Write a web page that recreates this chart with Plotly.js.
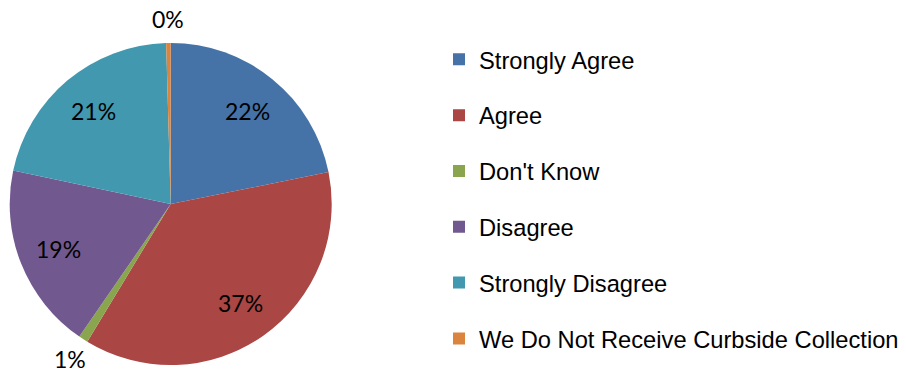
<!DOCTYPE html>
<html>
<head>
<meta charset="utf-8">
<script src="https://cdn.plot.ly/plotly-3.0.1.min.js"></script>
<style>html,body{margin:0;padding:0;background:#fff;}#chart{width:906px;height:373px;}</style>
</head>
<body>
<div id="chart"></div>
<script>
const categories = ["Strongly Agree", "Agree", "Don't Know", "Disagree", "Strongly Disagree", "We Do Not Receive Curbside Collection"];
const values = [21.8, 36.8, 0.93, 18.7, 21.2, 0.45];
const colors = ["#4572A7", "#AA4643", "#89A54E", "#71588F", "#4198AF", "#DB843D"];
const labelOutside = [false, false, true, false, false, true];

const W = 906, H = 373;
const cx = 170.7, cy = 204, R = 161;

const traces = [{
  type: 'pie',
  labels: categories,
  values: values,
  sort: false,
  direction: 'clockwise',
  rotation: 0,
  marker: {colors: colors, line: {width: 0}},
  textinfo: 'none',
  showlegend: false,
  hoverinfo: 'label+percent',
  domain: {x: [(cx - R) / W, (cx + R) / W], y: [(H - cy - R) / H, (H - cy + R) / H]}
}];

categories.forEach((c, i) => {
  traces.push({
    type: 'scatter', mode: 'markers', x: [null], y: [null],
    name: c, legendgroup: 'g' + i,
    marker: {symbol: 'square', size: 12, color: colors[i]},
    showlegend: true, hoverinfo: 'skip'
  });
});

// data labels placed at each slice's mid-angle (derived from the values)
const total = values.reduce((a, b) => a + b, 0);
const annotations = [];
let cum = 0;
values.forEach((v, i) => {
  const mid = (cum + v / 2) / total * 2 * Math.PI;
  cum += v;
  const f = labelOutside[i] ? 1.15 : 0.75;
  const px = cx + Math.sin(mid) * R * f;
  const py = cy - Math.cos(mid) * R * f;
  annotations.push({
    xref: 'paper', yref: 'paper', x: px / W, y: 1 - py / H,
    xanchor: 'center', yanchor: 'middle', showarrow: false,
    text: Math.round(v / total * 100) + '%',
    font: {family: 'Lato, "Open Sans", sans-serif', size: 23, color: '#000'}
  });
});

const layout = {
  width: W, height: H,
  margin: {l: 0, r: 0, t: 0, b: 0},
  paper_bgcolor: '#fff', plot_bgcolor: 'rgba(0,0,0,0)',
  xaxis: {visible: false}, yaxis: {visible: false},
  showlegend: true,
  annotations: annotations,
  legend: {
    x: 439 / W, xanchor: 'left', y: 0.8996, yanchor: 'top',
    font: {family: '"Liberation Sans", Arial, sans-serif', size: 23.7, color: '#000'},
    tracegroupgap: 22, itemclick: false, itemdoubleclick: false,
    bgcolor: 'rgba(0,0,0,0)'
  }
};

Plotly.newPlot('chart', traces, layout, {displayModeBar: false, staticPlot: true});
</script>
</body>
</html>
